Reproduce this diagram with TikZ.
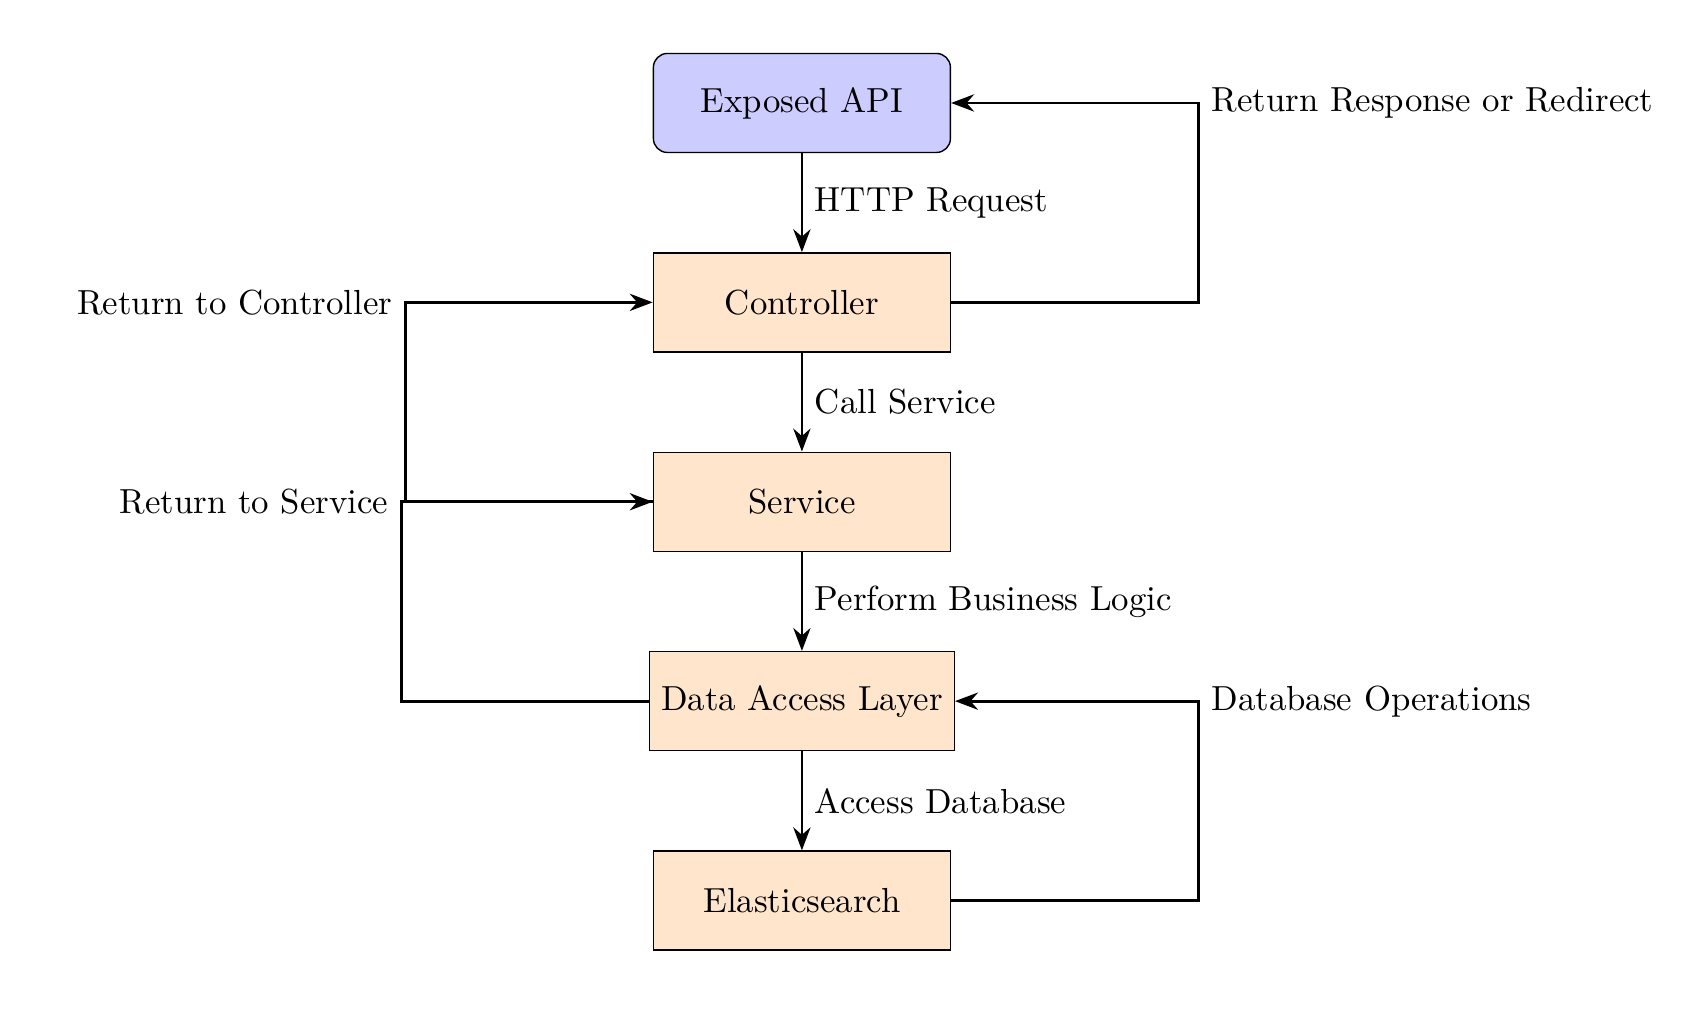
\documentclass[tikz,border=0pt]{standalone}
\usepackage{xcolor}
\usepackage{tikz}
\usetikzlibrary{arrows.meta, positioning}

\begin{document}
\begin{tikzpicture}[
    layerbox/.style={rectangle, draw, fill=orange!20, minimum width=3cm, minimum height=1cm, align=center},
    apibox/.style={rectangle, draw, rounded corners, fill=blue!20, minimum width=3cm, minimum height=1cm, align=center},
    arrow/.style={-{Stealth}, thick}
]
    \useasboundingbox (-8.1, 1.04) rectangle (8.93, -9.32);

    % Layers
    \node[apibox] (api) at (0, 0) {Exposed API};
    \node[layerbox, below=1cm of api] (controller) {Controller};
    \node[layerbox, below=1cm of controller] (service) {Service};
    \node[layerbox, below=1cm of service] (dal) {Data Access Layer};
    \node[layerbox, below=1cm of dal] (es) {Elasticsearch};

    % Requests going down
    \draw[arrow] (api) -- (controller) node[midway, right] {HTTP Request};
    \draw[arrow] (controller) -- (service) node[midway, right] {Call Service};
    \draw[arrow] (service) -- (dal) node[midway, right] {Perform Business Logic};
    \draw[arrow] (dal) -- (es) node[midway, right] {Access Database};

    % Returns going up
    \draw[arrow] (es.east) -- ++(2.5, 0) |- node[right] {Database Operations} (dal.east);
    \draw[arrow] (dal.west) -- ++(-2.5, 0) |- node[left] {Return to Service} (service.west);
    \draw[arrow] (service.west) -- ++(-2.5, 0) |- node[left] {Return to Controller} (controller.west);
    \draw[arrow] (controller.east) -- ++(2.5, 0) |- node[right] {Return Response or Redirect} (api.east);
\end{tikzpicture}
\end{document}
